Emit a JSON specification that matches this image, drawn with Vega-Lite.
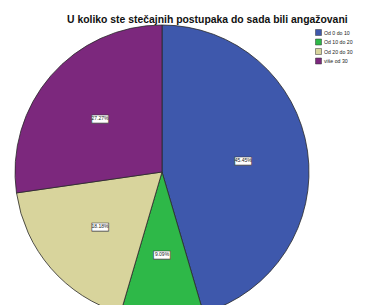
{
  "$schema": "https://vega.github.io/schema/vega-lite/v6.json",
  "width": 324,
  "height": 300,
  "autosize": "none",
  "padding": {"left": 0, "top": 22, "right": 41, "bottom": 0},
  "background": "white",
  "title": {
    "text": "U koliko ste stečajnih postupaka do sada bili angažovani",
    "font": "Liberation Sans",
    "fontSize": 10.4,
    "fontWeight": "bold",
    "color": "#111",
    "anchor": "start",
    "dx": 67,
    "offset": -3,
    "limit": 0
  },
  "data": {
    "values": [
      {"category": "Od 0 do 10", "value": 45.45, "label": "45.45%"},
      {"category": "Od 10 do 20", "value": 9.09, "label": "9.09%"},
      {"category": "Od 20 do 30", "value": 18.18, "label": "18.18%"},
      {"category": "više od 30", "value": 27.27, "label": "27.27%"}
    ]
  },
  "encoding": {
    "theta": {"field": "value", "type": "quantitative", "stack": true},
    "order": {"field": "category", "type": "ordinal", "sort": "ascending"},
    "detail": {"field": "category", "type": "nominal"}
  },
  "layer": [
    {
      "mark": {"type": "arc", "outerRadius": 147, "stroke": "#2a2a2a", "strokeWidth": 0.8},
      "encoding": {
        "color": {
          "field": "category",
          "type": "nominal",
          "scale": {
            "domain": ["Od 0 do 10", "Od 10 do 20", "Od 20 do 30", "više od 30"],
            "range": ["#3e58ac", "#2eb848", "#d8d49c", "#7c287d"]
          },
          "legend": {
            "orient": "none",
            "legendX": 315,
            "legendY": 7,
            "title": null,
            "symbolType": "square",
            "symbolSize": 36,
            "symbolStrokeColor": "#333",
            "symbolStrokeWidth": 0.5,
            "labelFont": "Liberation Sans",
            "labelFontSize": 5.2,
            "labelColor": "#222",
            "rowPadding": 0.5,
            "labelOffset": 2,
            "padding": 0
          }
        }
      }
    },
    {
      "mark": {"type": "text", "radius": 82, "text": "▬", "font": "DejaVu Sans", "fontSize": 22, "fill": "white", "stroke": "#333", "strokeWidth": 0.6}
    },
    {
      "mark": {"type": "text", "radius": 82, "font": "Liberation Sans", "fontSize": 5, "fill": "#222"},
      "encoding": {"text": {"field": "label", "type": "nominal"}}
    }
  ],
  "config": {"view": {"stroke": null}}
}
